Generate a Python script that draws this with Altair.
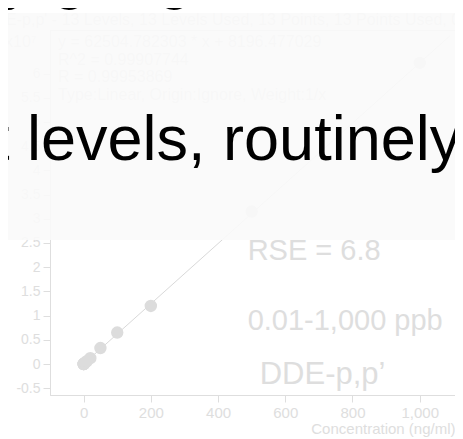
import altair as alt
import pandas as pd

# ---- calibration data ----
conc = [0.01, 0.05, 0.1, 0.5, 1, 5, 10, 20, 50, 100, 200, 500, 1000]
resp = [0.0, 0.0, 0.0, 0.0, 0.01, 0.03, 0.06, 0.12, 0.33, 0.65, 1.20, 3.15, 6.22]

fit_x = [0, 1090]
fit_y = [0.0, 6.78]

x_ticks = [0, 200, 400, 600, 800, 1000]
y_ticks = [-0.5, 0, 0.5, 1, 1.5, 2, 2.5, 3, 3.5, 4, 4.5, 5, 5.5, 6]

note_text = ["RSE = 6.8", "0.01-1,000 ppb", "DDE-p,p\u2019"]
note_x = [488, 488, 524]
note_y = [2.15, 0.70, -0.41]
note_size = [29, 29, 31]

header_text = [
    "DDE-p,p' - 13 Levels, 13 Levels Used, 13 Points, 13 Points Used, 0 QCs",
    "x10\u2077",
    "y = 62504.782303 * x + 8196.477029",
    "R^2 = 0.99907744",
    "R = 0.99953869",
    "Type:Linear, Origin:Ignore, Weight:1/x",
]
header_px = [-67, -45, 8, 8, 8, 8]
header_py = [-5, 17, 17, 35, 52, 70]

slide_text_prev = "by get goes to see"
slide_text = "t levels, routinely"

FONT = "Liberation Sans"
GREY = "#dedede"

xs = alt.Scale(domain=[-100, 1105], nice=False, zero=False)
ys = alt.Scale(domain=[-0.64, 6.9], nice=False, zero=False)

xaxis = alt.Axis(values=x_ticks, grid=False, tickSize=7, labelFontSize=15,
                 labelColor=GREY, tickColor=GREY, domainColor=GREY,
                 labelPadding=3, title="Concentration (ng/ml)", titleFontSize=15,
                 titleFontWeight="normal", titleColor=GREY, titleAnchor="end",
                 titlePadding=1, labelFont=FONT, titleFont=FONT)
yaxis = alt.Axis(values=y_ticks, grid=False, tickSize=7, labelFontSize=14,
                 labelColor=GREY, tickColor=GREY, domainColor=GREY,
                 labelPadding=3, title=None, labelExpr="datum.value + ''",
                 labelFont=FONT)

X = alt.X("x:Q", scale=xs, axis=xaxis)
Y = alt.Y("y:Q", scale=ys, axis=yaxis)

pts = pd.DataFrame({"x": conc, "y": resp})
fit = pd.DataFrame({"x": fit_x, "y": fit_y})
notes = pd.DataFrame({"x": note_x, "y": note_y, "t": note_text, "s": note_size})
head = pd.DataFrame({"px": header_px, "py": header_py, "t": header_text})

line = alt.Chart(fit).mark_line(color="#d9d9d9", strokeWidth=1).encode(x=X, y=Y)
dots = alt.Chart(pts).mark_circle(size=154, color="#dcdcdc", opacity=1).encode(x=X, y=Y)
note_layer = alt.Chart(notes).mark_text(align="left", baseline="alphabetic",
                                        font=FONT, color=GREY).encode(
    x=X, y=Y, text="t:N", size=alt.Size("s:Q", scale=None, legend=None))
head_layer = alt.Chart(head).mark_text(align="left", baseline="alphabetic",
                                       font=FONT, fontSize=16, color=GREY).encode(
    x=alt.X("px:Q", scale=None), y=alt.Y("py:Q", scale=None), text="t:N")

overlay = alt.Chart(pd.DataFrame({"k": [0]})).mark_rect(
    color="#f9f9f9", opacity=0.9).encode(
    x=alt.value(-50), x2=alt.value(420), y=alt.value(-17), y2=alt.value(210))

big_prev = alt.Chart(pd.DataFrame({"t": [slide_text_prev]})).mark_text(
    align="left", baseline="alphabetic", font=FONT, fontSize=63, color="#000000").encode(
    x=alt.value(-82), y=alt.value(-33), text="t:N")
big = alt.Chart(pd.DataFrame({"t": [slide_text]})).mark_text(
    align="left", baseline="alphabetic", font=FONT, fontSize=63, color="#000000").encode(
    x=alt.value(-58), y=alt.value(130), text="t:N")

chart = alt.layer(line, dots, note_layer, head_layer, overlay, big_prev, big).properties(
    width=405, height=365,
    autosize=alt.AutoSizeParams(type="none"),
    padding={"left": 42, "top": 22, "right": 0, "bottom": 44},
).configure_view(stroke=None).configure(background="white")

chart.save("out.html", embed_options={"renderer": "svg", "actions": False})
